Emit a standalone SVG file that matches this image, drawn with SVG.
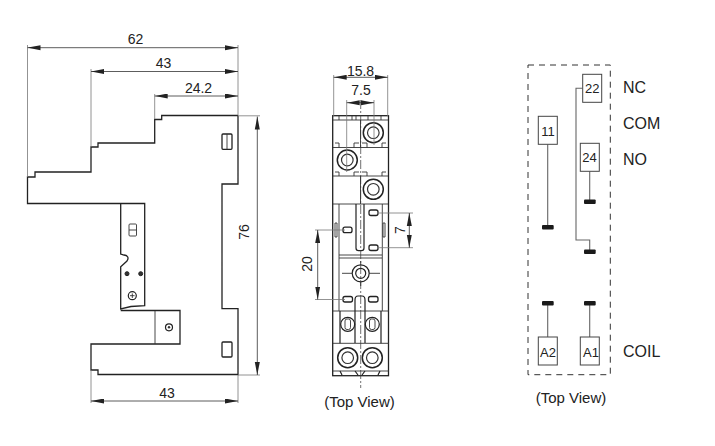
<svg xmlns="http://www.w3.org/2000/svg" width="715" height="446" viewBox="0 0 715 446">
<style>
text{font-family:"Liberation Sans",Arial,sans-serif;fill:#222;text-anchor:middle}
.d{font-size:14px}.l{font-size:16px;text-anchor:start}.b{font-size:13px}.v{font-size:15px}
.o{fill:none;stroke:#222;stroke-width:1.3}
.t{fill:none;stroke:#333;stroke-width:.9}
.e{fill:none;stroke:#777;stroke-width:.8}
.dim{fill:none;stroke:#333;stroke-width:.8;marker-start:url(#as);marker-end:url(#ae)}
.w{fill:none;stroke:#666;stroke-width:1.1}
.box{fill:#fff;stroke:#444;stroke-width:1}
.bar{fill:#1a1a1a}
.c{fill:none;stroke:#222;stroke-width:1.2}
.pad{fill:#fff;stroke:#222;stroke-width:1.3}
</style>
<defs>
<marker id="ae" markerUnits="userSpaceOnUse" markerWidth="14" markerHeight="6" refX="13" refY="2.5" orient="auto"><path d="M0 0L13 2.5L0 5Z" fill="#222"/></marker>
<marker id="as" markerUnits="userSpaceOnUse" markerWidth="14" markerHeight="6" refX="0" refY="2.5" orient="auto"><path d="M13 0L0 2.5L13 5Z" fill="#222"/></marker>
<g id="term"><circle r="10" fill="none" stroke="#222" stroke-width="1.500"/><circle r="5.800" fill="none" stroke="#333" stroke-width="1.200"/></g>
</defs>

<g id="side-view">
<path class="o" d="M238 115.500H161.700V119.500H154.700V143H98V147H91V172H35V177H27.500V203.500H144.700V305.700L131 306.500L120.700 309V266.700L127 261C129 258 128 255.500 124 255L120.700 254V203.500M120.700 310.500H180V344H91V370H98V374.500H238V308.700H222V184H238V115.500"/>
<path class="t" d="M155 311V344"/>
<rect class="o" x="222" y="134" width="10" height="15.300" rx="1"/><path class="t" d="M227 134V149"/>
<rect class="o" x="222" y="342" width="10" height="15" rx="1"/>
<rect class="t" x="129" y="224" width="7.500" height="12" rx="1"/><path class="t" d="M129 230H136.500"/>
<circle cx="127" cy="273.700" r="2" fill="#333" stroke="#222"/><circle cx="140.700" cy="273.700" r="2" fill="#333" stroke="#222"/>
<circle class="c" cx="132.300" cy="295.700" r="4"/><path class="t" d="M130 295.700H134.600M132.300 293.400V298"/>
<circle class="c" cx="169" cy="327.300" r="3.500"/><circle cx="169" cy="327.300" r="1.200" fill="#333"/>
</g>

<g id="top-view">
<rect class="o" x="332.700" y="115.700" width="55.800" height="260"/>
<path class="t" d="M333 120H388M339 120V116M352 120V116M356 120V116M368 120V116M381 120V116M333 147.500H388M333 176H388M333 204H388M333 311H389M339 255H382M339 258H382M333 343.300H389M333 371H389M360.500 120V147.500M360.500 176V204"/>
<path class="t" d="M339 204V311M382.300 204V311M339 147.500V143H335M382 147.500V143H386M339 176V172H335M382 176V172H386M354 147.500V143H359M367 147.500V143H362M354 176V172H359M367 176V172H362M335 223H337V237H335ZM383 223H385V237H383Z"/>
<path class="c" d="M340 343.300V311M381 343.300V311M355 343V300Q355 296 358 296H362Q365 296 365 300V343M340 371L342 375M380 371L378 375M355 371L358 375M365 371L362 375"/>
<path class="c" d="M356 204V248Q356 250.700 358.500 250.700H361.500Q364 250.700 364 248V204"/>
<use href="#term" x="373.300" y="132.700"/><use href="#term" x="347.300" y="160"/><use href="#term" x="373.300" y="189.300"/>
<use href="#term" x="347.700" y="357.700"/><use href="#term" x="372.300" y="357.700"/>
<circle class="c" cx="360.700" cy="273.300" r="8.500"/><circle class="c" cx="360.700" cy="273.300" r="5"/><path class="t" d="M342 273.300H352M369 273.300H380M360.700 261V265M360.700 282V286"/>
<rect class="pad" x="369" y="210" width="9" height="5.500" rx="2"/><rect class="pad" x="369" y="245" width="9" height="5.500" rx="2"/><rect class="pad" x="343" y="227.200" width="9" height="5.500" rx="2"/>
<rect class="pad" x="343" y="296.500" width="9.500" height="5.500" rx="2"/><rect class="pad" x="368.500" y="296.500" width="9.500" height="5.500" rx="2"/>
<circle class="c" cx="347.700" cy="324.300" r="7"/><rect class="t" x="345" y="319" width="5.500" height="10.500" rx="2"/>
<circle class="c" cx="372.300" cy="324.300" r="7"/><rect class="t" x="369.500" y="319" width="5.500" height="10.500" rx="2"/>
<path fill="none" stroke="#333" stroke-width=".7" stroke-dasharray="9 2 2 2" d="M360.700 100V388"/>
</g>

<g id="dimensions">
<path class="e" d="M27.500 45V177M91 69V147M154.700 94V119M238 45V115.500M91 370V403M238 375V403M238 115.800H260M238 375H260M333.700 75V116M387.700 75V116M346.700 100V172M374 100V145M378 213H413M378 247.700H413M315 230H345M315 299.500H345"/>
<path class="dim" d="M27.500 47.700H238"/><path class="dim" d="M91 71.500H238"/><path class="dim" d="M154.700 96H238"/>
<path class="dim" d="M257.300 116.500V375"/><path class="dim" d="M91 401H238"/>
<path class="dim" d="M333.700 77.300H387.700"/><path class="dim" d="M346.700 102.700H374"/>
<path class="dim" d="M409.300 213V247.700"/><path class="dim" d="M317.700 230V299.500"/>
<text class="d" x="135.500" y="44">62</text><text class="d" x="163.500" y="68">43</text><text class="d" x="198.500" y="93">24.2</text><text class="d" x="167" y="398">43</text>
<text class="d" transform="translate(249 232) rotate(-90)">76</text>
<text class="d" x="360.500" y="76">15.8</text><text class="d" x="361" y="95">7.5</text>
<text class="d" transform="translate(405 230) rotate(-90)">7</text><text class="d" transform="translate(311.500 264) rotate(-90)">20</text>
<text class="v" x="359.500" y="407">(Top View)</text>
</g>

<g id="schematic-frame"><rect x="528" y="65" width="82.300" height="309.700" fill="none" stroke="#333" stroke-width="1" stroke-dasharray="6 5"/></g>
<g id="connectors">
<path class="w" d="M547.700 144.300V227M589.700 171.300V201.700M582.700 88.300H576V240H589.700V251.700M547.700 303.300V337M589.700 303.300V337"/>
<rect class="bar" x="542" y="225" width="11.700" height="4.500" rx="1"/><rect class="bar" x="584" y="199.500" width="11.700" height="4.500" rx="1"/><rect class="bar" x="584" y="249.500" width="11.700" height="4.500" rx="1"/><rect class="bar" x="542" y="301" width="11.700" height="4.500" rx="1"/><rect class="bar" x="584" y="301" width="11.700" height="4.500" rx="1"/>
</g>
<g id="t22"><rect class="box" x="582.700" y="74.300" width="19" height="28"/><text class="b" x="592.200" y="93">22</text></g>
<g id="t11"><rect class="box" x="538.300" y="116.300" width="19" height="28"/><text class="b" x="548" y="136">11</text></g>
<g id="t24"><rect class="box" x="580.300" y="143.300" width="19" height="28"/><text class="b" x="589.500" y="162">24</text></g>
<g id="tA2"><rect class="box" x="538.300" y="337" width="19" height="28"/><text class="b" x="548" y="356.500">A2</text></g>
<g id="tA1"><rect class="box" x="580.300" y="337" width="19" height="28"/><text class="b" x="591" y="356.500">A1</text></g>
<g id="labels">
<text class="l" x="623" y="93">NC</text><text class="l" x="623" y="129">COM</text><text class="l" x="623" y="165">NO</text><text class="l" x="623" y="357">COIL</text>
<text class="v" x="571" y="403">(Top View)</text>
</g>
</svg>
